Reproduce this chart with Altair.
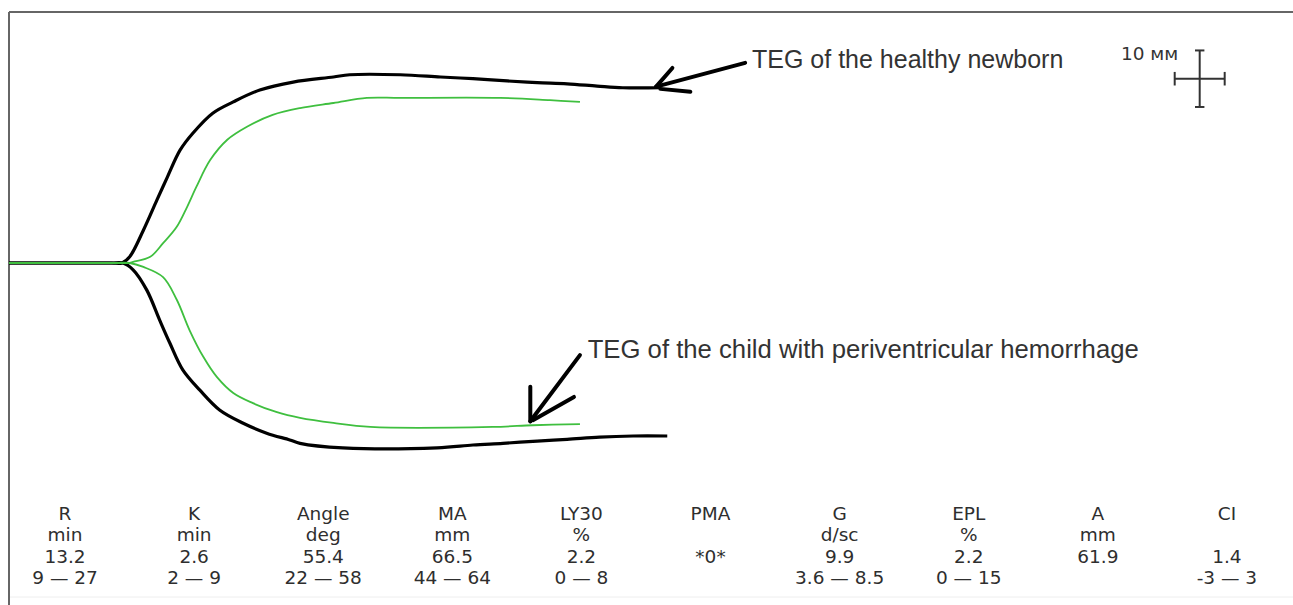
import altair as alt
import pandas as pd

# ---- TEG traces: time (min) and distance of the trace from the baseline (mm) ----
newborn_upper_t = [0, 4, 8, 12, 13.2, 14.1, 15.7, 17.3, 18.5, 20.0, 21.5, 23.8, 26.2, 29.3, 33.2,
                   37.9, 39.8, 45.7, 50.4, 54.2, 58.2, 61.7, 65.2, 68.7, 71.7, 76.1]
newborn_upper_mm = [0, 0, 0, 0, 0, 1.1, 5.8, 11.2, 15.2, 20.0, 23.0, 26.5, 28.5, 30.6, 32.0,
                    32.9, 33.3, 33.3, 32.9, 32.6, 32.2, 31.9, 31.7, 31.3, 31.0, 31.0]
newborn_lower_t = [0, 4, 8, 12, 13.3, 14.5, 16.1, 17.6, 18.8, 20.3, 22.3, 24.6, 27.3, 30.1, 32.8,
                   34.0, 39.0, 50.0, 54.2, 57.7, 61.7, 65.2, 69.0, 72.9, 76.9]
newborn_lower_mm = [0, 0, 0, 0, 0, 1.2, 4.8, 10.1, 14.2, 18.9, 22.5, 26.0, 28.3, 30.1, 31.3,
                    31.9, 32.7, 32.7, 32.2, 31.9, 31.5, 31.2, 30.8, 30.6, 30.6]

pvh_upper_t = [0, 4, 8, 12, 14.1, 14.5, 16.5, 18.0, 19.6, 20.8, 21.9, 23.5, 25.5, 27.8, 30.8,
               34.0, 37.9, 41.8, 45.7, 57.4, 63.2, 66.7]
pvh_upper_mm = [0, 0, 0, 0, 0, 0.2, 1.1, 3.5, 6.4, 9.9, 13.5, 18.2, 21.8, 24.1, 26.2,
                27.4, 28.3, 29.2, 29.2, 29.2, 28.8, 28.5]
pvh_lower_t = [0, 4, 8, 12, 14.1, 15.7, 18.0, 19.6, 21.1, 22.7, 24.3, 26.2, 28.5, 31.3, 34.0,
               37.9, 42.2, 56.5, 61.2, 66.7]
pvh_lower_mm = [0, 0, 0, 0, 0, 0.7, 2.5, 6.5, 11.9, 16.6, 20.2, 23.0, 24.8, 26.4, 27.4,
                28.3, 29.0, 29.0, 28.7, 28.5]

# ---- hand-drawn pointer strokes (start/end in min, mm) ----
arrow_t1 = [86.0, 75.6, 76.1, 66.7, 60.9, 66.0]
arrow_mm1 = [35.4, 31.2, 30.8, -16.3, -21.9, -23.7]
arrow_t2 = [75.6, 77.5, 79.6, 60.9, 60.9, 61.2]
arrow_mm2 = [31.2, 34.5, 30.3, -28.0, -28.0, -27.8]

notes = ["TEG of the healthy newborn", "TEG of the child with periventricular hemorrhage"]
note_t = [86.8, 67.6]
note_mm = [34.5, -16.8]
note_size = [25, 25.7]

# ---- 10 mm calibration cross ----
cross_t, cross_mm = 139.1, 32.6
cross_len_mm = 10.0        # vertical arm
cross_len_t = 5.84         # horizontal arm (10 mm of chart paper)
cross_label = "10 мм"

# ---- parameter table ----
params = ["R", "K", "Angle", "MA", "LY30", "PMA", "G", "EPL", "A", "CI"]
units = ["min", "min", "deg", "mm", "%", "", "d/sc", "%", "mm", ""]
values = ["13.2", "2.6", "55.4", "66.5", "2.2", "*0*", "9.9", "2.2", "61.9", "1.4"]
ranges = ["9 — 27", "2 — 9", "22 — 58", "44 — 64", "0 — 8", "", "3.6 — 8.5", "0 — 15", "", "-3 — 3"]

W, H = 1284, 593
XS = alt.Scale(domain=[0, 150], nice=False, zero=False)
YS = alt.Scale(domain=[-60.5, 44.4], nice=False, zero=False)


def trace(name, ts, mms, sign):
    return pd.DataFrame({"trace": name, "t": ts, "mm": [sign * v for v in mms]})


newborn = pd.concat([trace("upper", newborn_upper_t, newborn_upper_mm, 1),
                     trace("lower", newborn_lower_t, newborn_lower_mm, -1)])
pvh = pd.concat([trace("upper", pvh_upper_t, pvh_upper_mm, 1),
                 trace("lower", pvh_lower_t, pvh_lower_mm, -1)])


def curve(df, color, width):
    return alt.Chart(df).mark_line(color=color, strokeWidth=width, interpolate="catmull-rom",
                                   strokeJoin="round").encode(
        x=alt.X("t:Q", scale=XS, axis=None),
        y=alt.Y("mm:Q", scale=YS, axis=None),
        detail="trace:N",
        order="t:Q",
    )


one = pd.DataFrame({"k": [0]})
frame_top = alt.Chart(one).mark_rule(color="#666666", strokeWidth=2).encode(
    x=alt.value(0), x2=alt.value(W), y=alt.value(0))
frame_left = alt.Chart(one).mark_rule(color="#666666", strokeWidth=2).encode(
    x=alt.value(0), y=alt.value(0), y2=alt.value(H + 2))
frame_bottom = alt.Chart(one).mark_rule(color="#eeeeee", strokeWidth=1).encode(
    x=alt.value(1), x2=alt.value(W), y=alt.value(H - 8))

arrows_df = pd.DataFrame({"t1": arrow_t1, "mm1": arrow_mm1, "t2": arrow_t2, "mm2": arrow_mm2})
arrows = alt.Chart(arrows_df).mark_rule(color="black", strokeWidth=4, strokeCap="round").encode(
    x=alt.X("t1:Q", scale=XS, axis=None), x2="t2:Q",
    y=alt.Y("mm1:Q", scale=YS, axis=None), y2="mm2:Q",
)

notes_df = pd.DataFrame({"label": notes, "t": note_t, "mm": note_mm, "size": note_size})
note_text = alt.Chart(notes_df).mark_text(
    align="left", baseline="alphabetic", font="Liberation Sans", color="#333333"
).encode(
    x=alt.X("t:Q", scale=XS, axis=None),
    y=alt.Y("mm:Q", scale=YS, axis=None),
    size=alt.Size("size:Q", scale=None, legend=None),
    text="label:N",
)

# calibration cross: two arms plus end caps
ht, hm = cross_len_t / 2, cross_len_mm / 2
cap_t, cap_mm = 0.55, 1.2
cross_df = pd.DataFrame({
    "t1": [cross_t, cross_t - ht, cross_t - cap_t, cross_t - cap_t, cross_t - ht, cross_t + ht],
    "t2": [cross_t, cross_t + ht, cross_t + cap_t, cross_t + cap_t, cross_t - ht, cross_t + ht],
    "mm1": [cross_mm - hm, cross_mm, cross_mm + hm, cross_mm - hm, cross_mm - cap_mm, cross_mm - cap_mm],
    "mm2": [cross_mm + hm, cross_mm, cross_mm + hm, cross_mm - hm, cross_mm + cap_mm, cross_mm + cap_mm],
})
cross = alt.Chart(cross_df).mark_rule(color="#333333", strokeWidth=2).encode(
    x=alt.X("t1:Q", scale=XS, axis=None), x2="t2:Q",
    y=alt.Y("mm1:Q", scale=YS, axis=None), y2="mm2:Q",
)
cross_text = alt.Chart(pd.DataFrame({"label": [cross_label], "t": [cross_t - 2.5],
                                     "mm": [cross_mm + 3.3]})).mark_text(
    align="right", baseline="alphabetic", font="DejaVu Sans", fontSize=18.5, color="#333333"
).encode(
    x=alt.X("t:Q", scale=XS, axis=None),
    y=alt.Y("mm:Q", scale=YS, axis=None),
    text="label:N",
)

rows = []
for i, cells in enumerate(zip(params, units, values, ranges)):
    for r, txt in enumerate(cells):
        if txt:
            rows.append({"col": i, "row": r, "txt": txt})
table_df = pd.DataFrame(rows)
table = alt.Chart(table_df).mark_text(
    align="center", baseline="middle", font="DejaVu Sans", fontSize=18.5, color="#2e2e2e"
).encode(
    x=alt.X("col:Q", scale=alt.Scale(domain=[-0.434, 9.512], nice=False, zero=False), axis=None),
    y=alt.Y("row:Q", scale=alt.Scale(domain=[-23.57, 4.27], nice=False, zero=False, reverse=True),
            axis=None),
    text="txt:N",
)

chart = alt.layer(
    frame_top, frame_left, frame_bottom,
    curve(newborn, "black", 3.2),
    curve(pvh, "#3fbf3f", 1.8),
    arrows, note_text, cross, cross_text, table,
).resolve_scale(x="independent", y="independent").properties(
    width=W, height=H,
    autosize=alt.AutoSizeParams(type="none"),
    padding={"left": 9, "top": 12, "right": 0, "bottom": 0},
    background="white",
).configure_view(stroke=None)

chart.save("out.html", embed_options={"renderer": "svg", "actions": False})
